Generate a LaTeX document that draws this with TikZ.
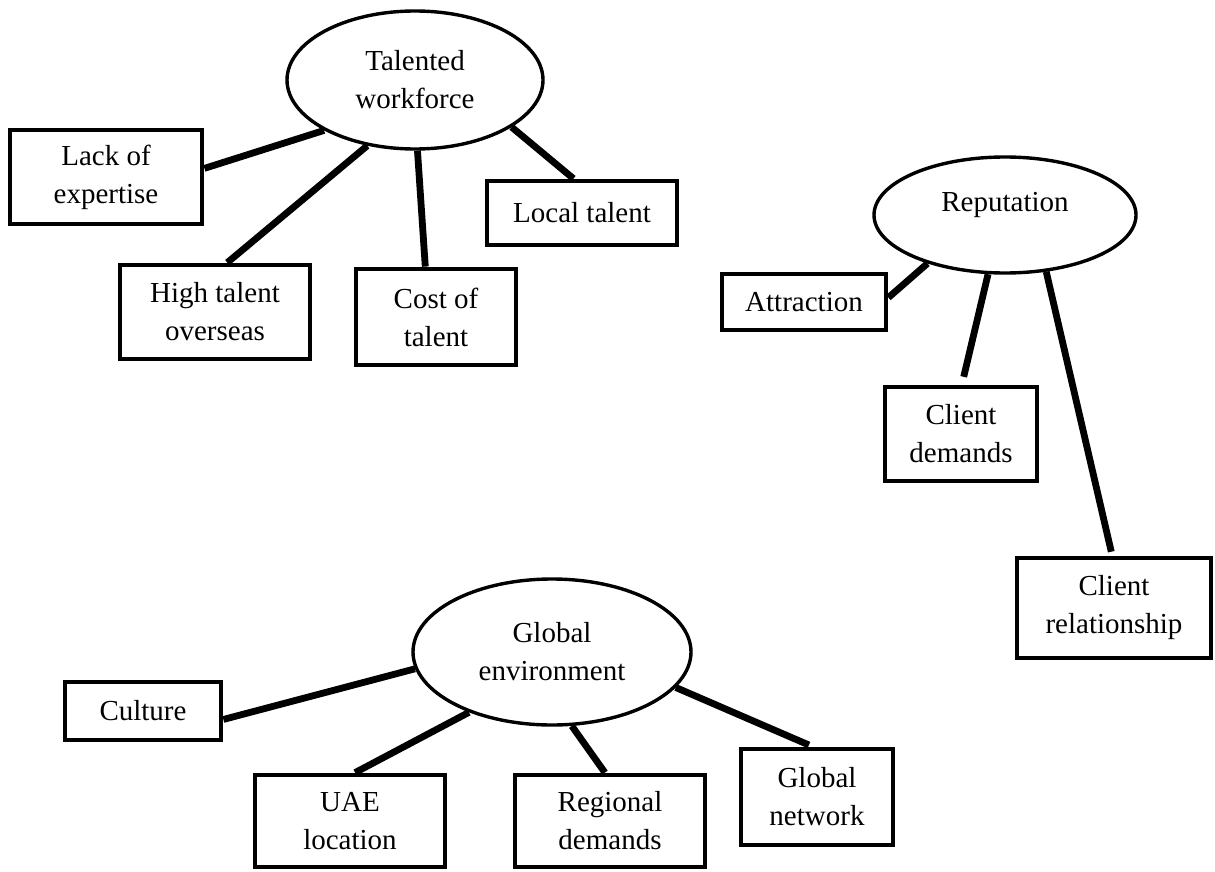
\documentclass[tikz,border=0pt]{standalone}
\usepackage{fontspec}
\setmainfont{Liberation Serif}
\usetikzlibrary{shapes.geometric}

\newcommand{\mapfont}{\fontsize{14.5pt}{19pt}\selectfont}

\tikzset{
  topic/.style={ellipse, draw, line width=1.7pt, inner sep=0pt, align=center, font=\mapfont},
  factor/.style={rectangle, draw, line width=2.4pt, inner sep=0pt, align=center, font=\mapfont},
  link/.style={line width=3.4pt},
}

\begin{document}
\begin{tikzpicture}[x=0.5pt, y=-0.5pt]
    \useasboundingbox (0,0) rectangle (1215,872);

    % Talented workforce
    \node[topic, minimum width=128pt, minimum height=69pt] (talent) at (415,80) {Talented\\workforce};
    \node[factor, minimum width=96pt, minimum height=47pt] (lack) at (106,177) {Lack of\\expertise};
    \node[factor, minimum width=95pt, minimum height=47pt] (high) at (215,312) {High talent\\overseas};
    \node[factor, minimum width=80pt, minimum height=48pt] (cost) at (436,317) {Cost of\\talent};
    \node[factor, minimum width=95pt, minimum height=32pt] (local) at (582,213) {Local talent};

    \draw[link] (talent.209) -- (lack.5);
    \draw[link] (talent.234) -- (high.76);
    \draw[link] (talent.272) -- (cost.102);
    \draw[link] (talent.334) -- (local.104);

    % Reputation
    \node[topic, minimum width=131pt, minimum height=58pt, text depth=13pt] (rep) at (1005,215) {Reputation};
    \node[factor, minimum width=82pt, minimum height=28pt] (attr) at (804,302) {Attraction};
    \node[factor, minimum width=76pt, minimum height=47pt] (cdem) at (961,434) {Client\\demands};
    \node[factor, minimum width=97pt, minimum height=50pt] (crel) at (1114,608) {Client\\relationship};

    \draw[link] (rep.212) -- (attr.3);
    \draw[link, shorten >=4pt] (rep.254) -- (cdem.89);
    \draw[link, shorten >=2pt] (rep.306) -- (crel.92);

    % Global environment
    \node[topic, minimum width=139pt, minimum height=73pt] (global) at (552,652) {Global\\environment};
    \node[factor, minimum width=78pt, minimum height=29pt] (cult) at (143,711) {Culture};
    \node[factor, minimum width=95pt, minimum height=46pt] (uae) at (350,821) {UAE\\location};
    \node[factor, minimum width=95pt, minimum height=46pt] (reg) at (610,821) {Regional\\demands};
    \node[factor, minimum width=76pt, minimum height=48pt] (gnet) at (817,797) {Global\\network};

    \draw[link] (global.187) -- (cult.354);
    \draw[link] (global.216) -- (uae.84);
    \draw[link] (global.285) -- (reg.96);
    \draw[link, shorten >=2pt] (global.344) -- (gnet.95);
\end{tikzpicture}
\end{document}
